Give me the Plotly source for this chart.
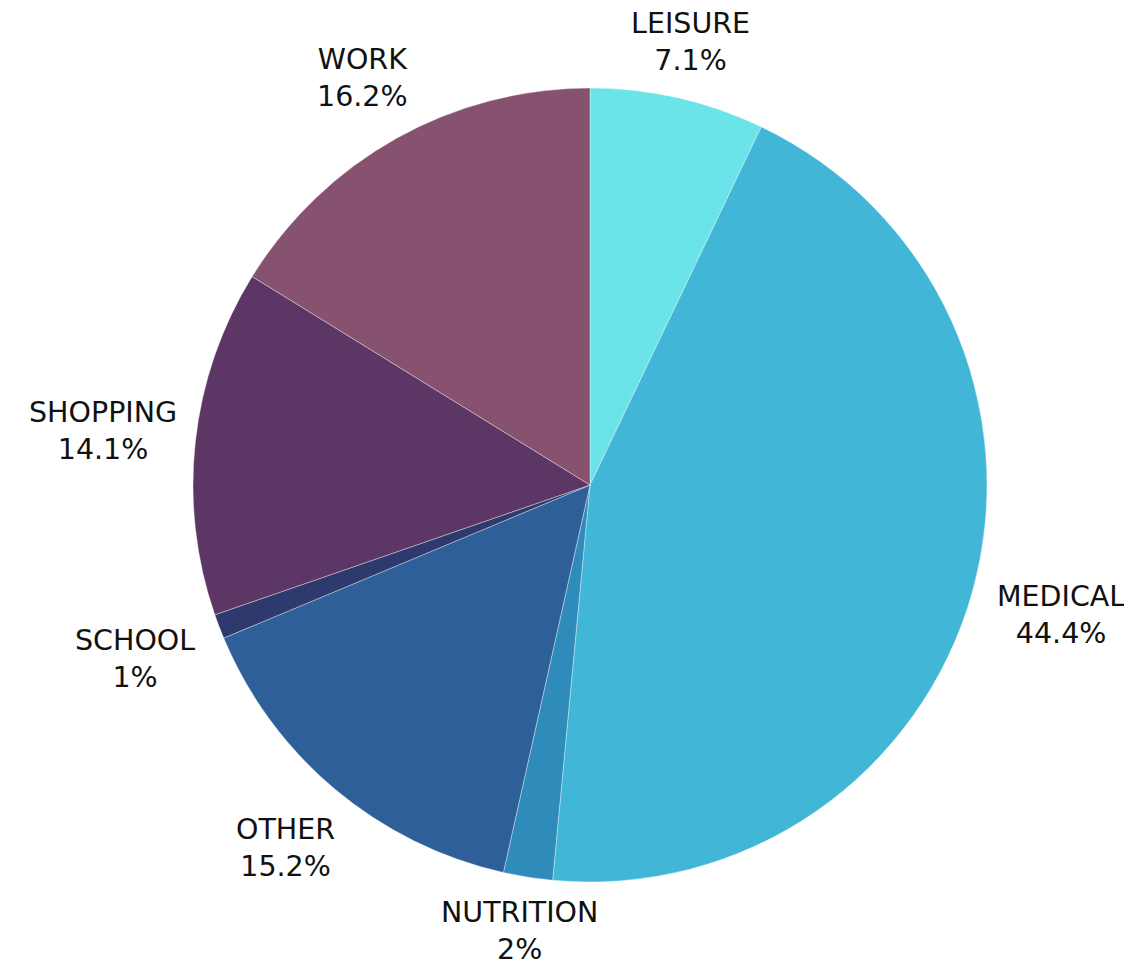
import math
import plotly.graph_objects as go

labels = ["LEISURE", "MEDICAL", "NUTRITION", "OTHER", "SCHOOL", "SHOPPING", "WORK"]
values = [7.1, 44.4, 2, 15.2, 1, 14.1, 16.2]
colors = ["#6ae4e8", "#42b6d6", "#2e8bba", "#2e5f98", "#2e3a6e", "#5c3664", "#87526f"]

W, H = 1132, 966
dom_x = [184 / W, 980 / W]
dom_y = [92 / H, 886 / H]

fig = go.Figure(go.Pie(
    labels=labels,
    values=values,
    sort=False,
    direction="clockwise",
    rotation=0,
    marker=dict(colors=colors, line=dict(color="rgba(255,255,255,0.6)", width=0.6)),
    textinfo="none",
    showlegend=False,
    hoverinfo="label+value",
    domain=dict(x=dom_x, y=dom_y),
))

# label placement: centred on each slice's mid-angle ray, just outside the pie
cx = (dom_x[0] + dom_x[1]) / 2 * W
cy = H - (dom_y[0] + dom_y[1]) / 2 * H
R = (dom_x[1] - dom_x[0]) * W / 2
total = sum(values)
cum = 0.0
annotations = []
for lab, v in zip(labels, values):
    mid = (cum + v / 2) / total * 2 * math.pi
    cum += v
    d = R + 46 + 46 * abs(math.sin(mid))
    px = cx + d * math.sin(mid)
    py = cy - d * math.cos(mid)
    annotations.append(dict(
        x=px / W, y=1 - py / H, xref="paper", yref="paper",
        text=f"{lab}<br>{v:g}%", showarrow=False,
        xanchor="center", yanchor="middle", align="center",
        font=dict(family="DejaVu Sans, sans-serif", size=28.5, color="#111111"),
    ))

fig.update_layout(
    width=W, height=H,
    margin=dict(l=0, r=0, t=0, b=0),
    paper_bgcolor="white",
    plot_bgcolor="white",
    annotations=annotations,
)
fig.write_html("out.html")
